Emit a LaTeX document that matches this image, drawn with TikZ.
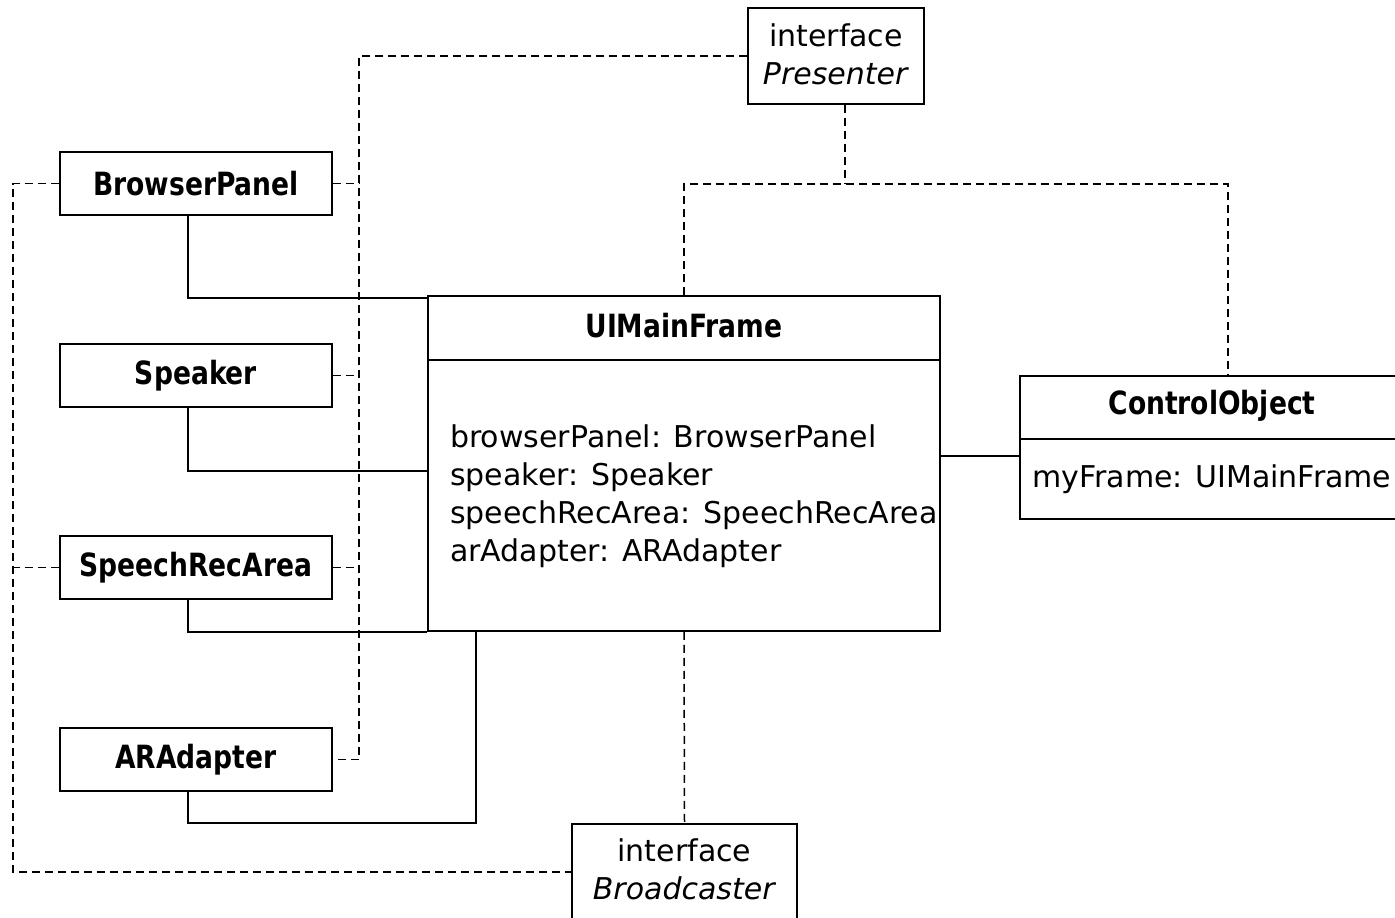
\documentclass[tikz,border=0pt]{standalone}
\usepackage{fontspec}
\setmainfont{DejaVu Sans}
\newfontfamily\titlefont{DejaVu Sans}[FakeStretch=0.83]
\begin{document}
\begin{tikzpicture}[x=1pt,y=-1pt,
  box/.style={draw,line width=1.9pt,fill=white,inner sep=0pt,align=center},
  dsh/.style={line width=1.5pt,dash pattern=on 8pt off 5pt},
  sol/.style={line width=1.9pt},
  ttl/.style={font=\titlefont\bfseries\fontsize{32}{36}\selectfont},
  txt/.style={font=\fontsize{30}{38}\selectfont},
  cls/.style={box,ttl,minimum width=272,minimum height=63}]
\useasboundingbox (0,0) rectangle (1395,918);
\clip (0,0) rectangle (1395,918);

% class boxes on the left
\node[cls] (bp) at (196,183.5) {BrowserPanel};
\node[cls] (sp) at (196,375.5) {Speaker};
\node[cls] (sra) at (196,567.5) {SpeechRecArea};
\node[cls] (ar) at (196,759.5) {ARAdapter};

% interfaces
\node[box,minimum width=176,minimum height=96] (pres) at (836,56) {};
\node[txt,inner sep=0pt,align=center] (prest) at (836,54) {interface\\\textit{Presenter}};
\node[box,minimum width=225,minimum height=96] (bc) at (684.5,872) {};
\node[txt,inner sep=0pt,align=center] (bct) at (684.5,869) {interface\\\textit{Broadcaster}};

% UIMainFrame
\node[box,minimum width=512,minimum height=335] (umf) at (684,463.5) {};
\node[ttl,inner sep=0pt] (umft) at (684,326) {UIMainFrame};
\draw[line width=1.9pt] (428,360) -- (940,360);
\node[txt,inner sep=0pt,anchor=west,align=left] (umfa) at (450,496)
  {browserPanel: BrowserPanel\\speaker: Speaker\\speechRecArea: SpeechRecArea\\arAdapter: ARAdapter};

% ControlObject
\node[box,minimum width=385,minimum height=143] (co) at (1212.5,447.5) {};
\node[ttl,inner sep=0pt] (cot) at (1212,406) {ControlObject};
\draw[line width=1.9pt] (1020,439) -- (1405,439);
\node[txt,inner sep=0pt,anchor=west] (coa) at (1032,479) {myFrame: UIMainFrame};

% helper coordinates
\coordinate (pbus) at (359,0);
\coordinate (lbus) at (13,0);
\coordinate (ptop) at (845,184);
\coordinate (cobus) at (1228,184);
\coordinate (sx) at (188,0);
\coordinate (j1) at (428,298);
\coordinate (j2) at (428,471);
\coordinate (j4) at (476,823);
\coordinate (cy) at (980,456);

% dashed dependencies
\draw[dsh] (pres.west) -- (pres.west -| pbus) -- (ar.east -| pbus) -- (ar.east);
\draw[dsh] (bp.east) -- (bp.east -| pbus);
\draw[dsh] (sp.east) -- (sp.east -| pbus);
\draw[dsh] (sra.east) -- (sra.east -| pbus);
\draw[dsh] (bp.west) -- (bp.west -| lbus) -- (lbus |- bc.west) -- (bc.west);
\draw[dsh] (sra.west) -- (sra.west -| lbus);
\draw[dsh] (pres.south -| ptop) -- (ptop);
\draw[dsh] (umf.north) -- (umf.north |- ptop) -- (cobus) -- (cobus |- co.north);
\draw[dsh] (umf.south) -- (bc.north);

% solid associations
\draw[sol] (bp.south -| sx) |- (j1);
\draw[sol] (sp.south -| sx) |- (j2);
\draw[sol] (sra.south -| sx) |- (umf.south west);
\draw[sol] (ar.south -| sx) |- (j4) -- (j4 |- umf.south);
\draw[sol] (umf.east |- cy) -- (co.west |- cy);
\end{tikzpicture}
\end{document}
